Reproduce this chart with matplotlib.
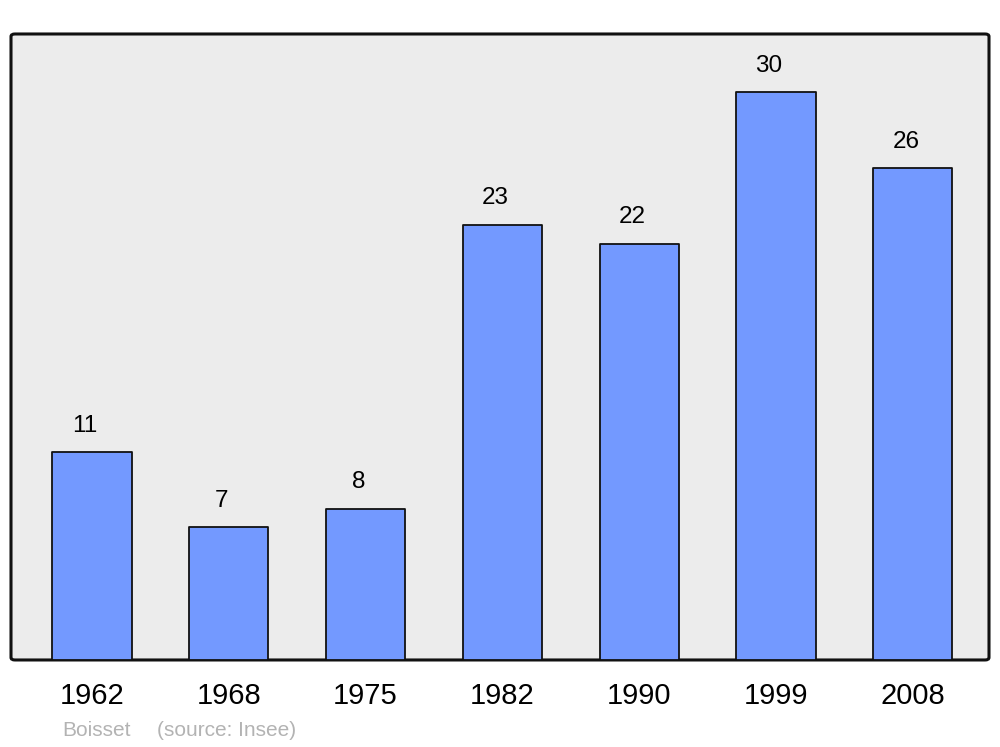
import matplotlib
matplotlib.use("Agg")
import matplotlib.pyplot as plt
from matplotlib.patches import FancyBboxPatch

# === Population data ===
years = ["1962", "1968", "1975", "1982", "1990", "1999", "2008"]
population = [11, 7, 8, 23, 22, 30, 26]
town = "Boisset"
source = "(source: Insee)"

plt.rcParams["font.family"] = ["Liberation Sans", "DejaVu Sans"]

fig = plt.figure(figsize=(10, 7.47), dpi=100)
ax = fig.add_axes([0.011, 0.1165, 0.978, 0.838])
ax.set_facecolor("none")

# rounded frame with grey fill
frame = FancyBboxPatch((0, 0), 1, 1, boxstyle="round,pad=0,rounding_size=0.004",
                       transform=ax.transAxes, facecolor="#ececec", edgecolor="#111111",
                       linewidth=2.2, clip_on=False, zorder=0)
ax.add_patch(frame)
for s in ax.spines.values():
    s.set_visible(False)

x = list(range(len(years)))
ax.bar(x, population, width=0.578, color="#7399ff", edgecolor="#111111",
       linewidth=1.3, zorder=2, joinstyle="round")

for xi, v in zip(x, population):
    ax.annotate(str(v), (xi, v), xytext=(-5, 14.5), textcoords="offset points",
                ha="center", va="baseline", fontsize=17.5, color="black")

ax.set_xlim(-0.592, 6.557)
ax.set_ylim(0, 33.07)
ax.set_xticks(x)
ax.set_xticklabels(years, fontsize=21)
ax.tick_params(axis="x", length=0, pad=16)
ax.set_yticks([])

# footer, placed in pixels
fig.text(62, 747 - 730, town, transform=None, fontsize=15, color="#b3b3b3", va="center")
fig.text(157, 747 - 730, source, transform=None, fontsize=15, color="#b3b3b3", va="center")

fig.savefig("out.png", dpi=100)
